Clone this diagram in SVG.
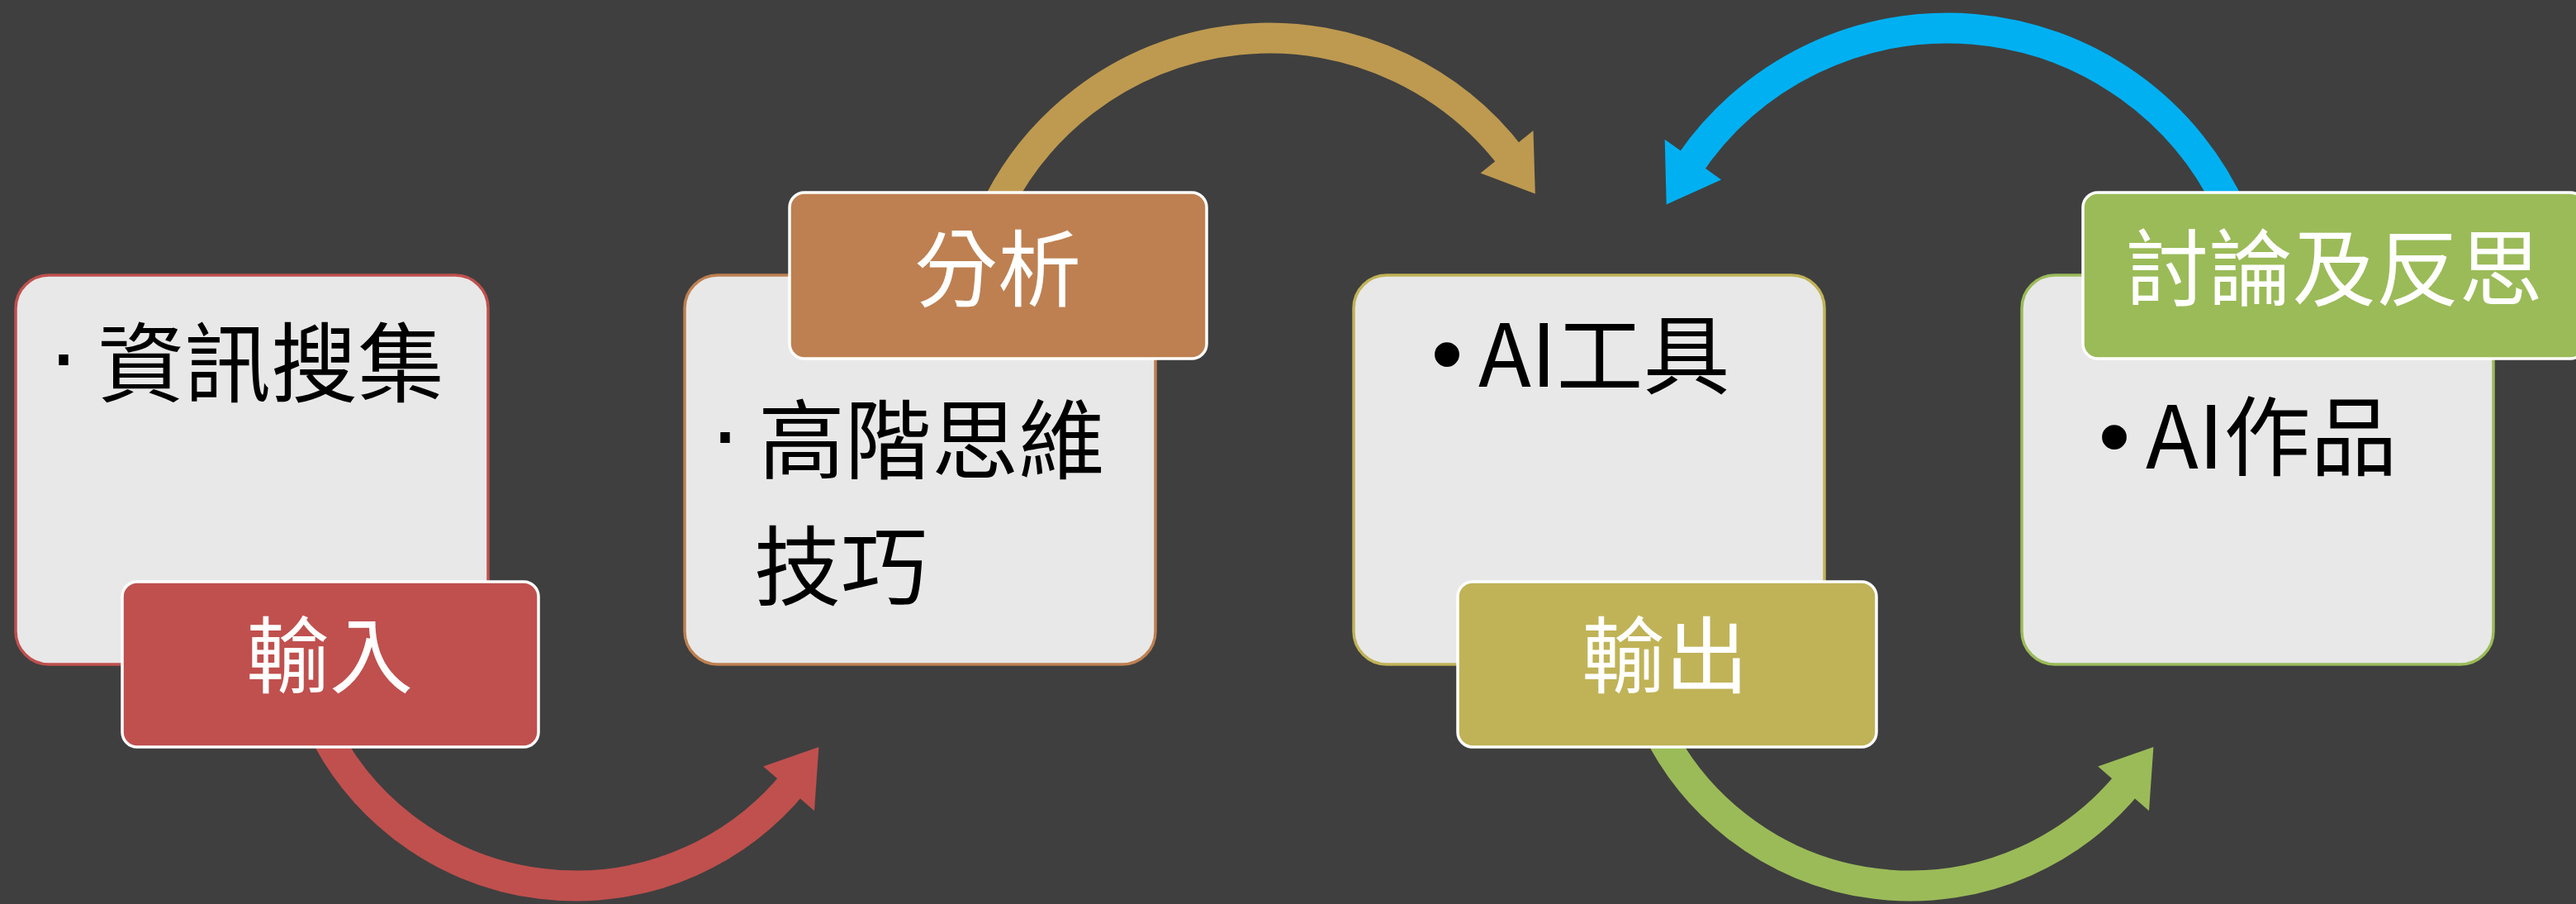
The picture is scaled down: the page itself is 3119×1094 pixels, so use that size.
<svg xmlns="http://www.w3.org/2000/svg" width="3119" height="1094" viewBox="0 0 3119 1094">
<style>
.box{fill:#E8E8E8;stroke-width:3.5}
.lbl{stroke:#FFFFFF;stroke-width:3.5}
.t{font-family:"Noto Sans CJK TC","Noto Sans CJK SC",sans-serif;font-size:105px;fill:#000000}
.lt{font-family:"Noto Sans CJK TC","Noto Sans CJK SC",sans-serif;font-size:101px;fill:#FFFFFF;text-anchor:middle}
.dot{font-family:"Liberation Sans",Arial,sans-serif;fill:#000000;text-anchor:middle}
.shaft{fill:none;stroke-width:37;stroke-linecap:butt}
</style>
<rect x="0" y="0" width="3119" height="1094" fill="#3F3F3F"/>
<g id="connectors">
  <g id="arrow-red">
    <path class="shaft" stroke="#C0504D" d="M387,874.5 A342,342 0 0 0 962.8,945.2"/>
    <polygon fill="#C0504D" points="924.2,927.5 986,981.3 991.4,904.1"/>
  </g>
  <g id="arrow-gold">
    <path class="shaft" stroke="#BE9A50" d="M1202.6,259.1 A369,369 0 0 1 1831.7,192.9"/>
    <polygon fill="#BE9A50" points="1792.6,209.5 1856.5,158.1 1858.8,234.4"/>
  </g>
  <g id="arrow-green">
    <path class="shaft" stroke="#9BBB59" d="M2003,874.5 A342,342 0 0 0 2578.8,945.2"/>
    <polygon fill="#9BBB59" points="2540.2,927.5 2602,981.3 2607.4,904.1"/>
  </g>
  <g id="arrow-blue">
    <path class="shaft" stroke="#00B0F0" d="M2704.1,260.1 A378,378 0 0 0 2042.4,203.9"/>
    <polygon fill="#00B0F0" points="2084.1,217.4 2015.7,168.7 2017.7,247.5"/>
  </g>
</g>
<g id="node-input">
  <rect class="box" x="19" y="333" width="572" height="471" rx="40" stroke="#C0504D"/>
  <text class="dot" x="77" y="468" font-size="120">·</text>
  <text class="t" x="118" y="478">資訊搜集</text>
  <rect class="lbl" x="148" y="704" width="504" height="200" rx="18" fill="#C0504D"/>
  <text class="lt" x="399" y="831">輸入</text>
</g>
<g id="node-analysis">
  <rect class="box" x="829" y="333" width="570" height="471" rx="40" stroke="#BE8050"/>
  <text class="dot" x="878" y="562" font-size="120">·</text>
  <text class="t" x="918" y="571">高階思維</text>
  <text class="t" x="913" y="724">技巧</text>
  <rect class="lbl" x="956" y="233" width="505" height="201" rx="18" fill="#BE8050"/>
  <text class="lt" x="1208" y="363">分析</text>
</g>
<g id="node-output">
  <rect class="box" x="1639" y="333" width="570" height="471" rx="40" stroke="#C0B256"/>
  <text class="dot" x="1752" y="465" font-size="110">•</text>
  <text class="t" x="1790" y="468">AI工具</text>
  <rect class="lbl" x="1765" y="704" width="507" height="200" rx="18" fill="#C0B256"/>
  <text class="lt" x="2016" y="831">輸出</text>
</g>
<g id="node-reflect">
  <rect class="box" x="2448" y="333" width="571" height="471" rx="40" stroke="#9BBB59"/>
  <text class="dot" x="2560" y="565" font-size="110">•</text>
  <text class="t" x="2598" y="567">AI作品</text>
  <rect class="lbl" x="2522" y="233" width="608" height="201" rx="18" fill="#9BBB59"/>
  <text class="lt" x="2826" y="362">討論及反思</text>
</g>
</svg>
